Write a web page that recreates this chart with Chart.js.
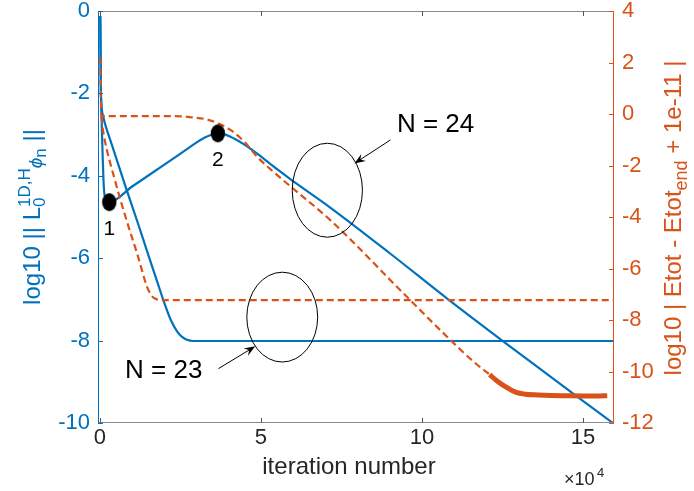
<!DOCTYPE html>
<html><head><meta charset="utf-8">
<script src="https://cdn.jsdelivr.net/npm/chart.js@4/dist/chart.umd.min.js"></script>
<style>html,body{margin:0;padding:0;background:#fff}</style>
</head><body>
<canvas id="c" width="694" height="491"></canvas>
<script>
// ---------- data (x in units of 1e4 iterations) ----------
const xTicks = [0, 5, 10, 15];
const xTickLabels = ['0', '5', '10', '15'];
const leftTicks = [-10, -8, -6, -4, -2, 0];
const rightTicks = [-12, -10, -8, -6, -4, -2, 0, 2, 4];

// N = 24, log10 ||L phi|| (left axis)
const blue24X = [0.01, 0.02, 0.03, 0.05, 0.08, 0.11, 0.14, 0.19, 0.29, 1.0, 2.0, 2.8, 3.12, 3.4, 3.66, 3.9, 4.15, 4.5, 4.88, 5.5, 5.91, 7.15, 9.0, 10.78, 13.0, 15.96];
const blue24Y = [-0.12, -1.0, -1.9, -2.6, -3.4, -4.1, -4.45, -4.6, -4.64, -4.26, -3.73, -3.30, -3.13, -3.02, -2.97, -3.0, -3.09, -3.25, -3.46, -3.84, -4.08, -4.77, -5.88, -6.98, -8.3, -10.02];
// N = 23, log10 ||L phi|| (left axis)
const blue23X = [0.01, 0.02, 0.03, 0.05, 0.1, 0.2, 0.32, 0.79, 1.2, 1.46, 1.77, 1.97, 2.2, 2.4, 2.55, 2.7, 2.9, 15.96];
const blue23Y = [-0.12, -1.0, -1.9, -2.3, -2.55, -2.85, -3.13, -4.25, -5.2, -5.82, -6.55, -7.02, -7.5, -7.78, -7.91, -7.98, -8.01, -8.01];
// N = 24, log10 |Etot - Etot_end + 1e-11| (right axis)
const orange24X = [0.01, 0.02, 0.03, 0.05, 0.5, 1.5, 2.5, 2.85, 3.32, 3.7, 4.05, 4.5, 4.88, 5.3, 5.81, 7.15, 9.53, 10.9, 11.6, 12.1];
const orange24Y = [2.2, 1.5, 0.5, -0.08, -0.08, -0.08, -0.09, -0.13, -0.21, -0.38, -0.62, -1.1, -1.66, -2.15, -2.70, -4.12, -7.10, -8.8, -9.62, -10.12];
// N = 24 noisy tail (right axis)
const orange24TailX = [12.1, 12.3, 12.6, 12.9, 13.2, 13.6, 14.0, 14.5, 15.0, 15.5, 15.75];
const orange24TailY = [-10.12, -10.34, -10.6, -10.8, -10.88, -10.91, -10.93, -10.94, -10.95, -10.95, -10.94];
// N = 23, log10 |Etot - Etot_end + 1e-11| (right axis)
const orange23X = [0.05, 0.08, 0.13, 0.45, 0.81, 1.17, 1.46, 1.62, 1.77, 2.0, 15.96];
const orange23Y = [-0.1, -0.48, -0.89, -2.5, -4.06, -5.48, -6.7, -7.08, -7.2, -7.23, -7.23];
// marked points 1 and 2 (left axis)
const markX = [0.29, 3.66];
const markY = [-4.64, -2.97];
const markLabels = ['1', '2'];

// annotations (data coordinates, left axis)
const noteTexts = ['N = 24', 'N = 23'];
const noteX = [10.42, 1.98];
const noteY = [-2.77, -8.74];
const ellipseCX = [7.06, 5.66];
const ellipseCY = [-4.35, -7.43];
const ellipseRX = [1.09, 1.10];
const ellipseRY = [1.14, 1.09];
const arrowFromX = [9.02, 3.68], arrowFromY = [-3.13, -8.68];
const arrowToX = [7.90, 4.82], arrowToY = [-3.70, -8.14];

const BLUE = '#0072BD', ORANGE = '#D95319', GREY = '#262626';
const FONT = '"Liberation Sans", Arial, Helvetica, sans-serif';

const pts = (xs, ys) => xs.map((v, i) => ({x: v, y: ys[i]}));

// elliptical black marker
const dot = document.createElement('canvas');
dot.width = 16; dot.height = 20;
{ const g = dot.getContext('2d'); g.fillStyle = '#000'; g.beginPath(); g.ellipse(8, 10, 7.2, 9, 0, 0, Math.PI * 2); g.fill(); }

const decor = {
  id: 'decor',
  afterDatasetsDraw(chart) {
    const {ctx, chartArea: a, scales} = chart;
    const x = scales.x, y = scales.y, y2 = scales.y2;
    ctx.save();
    ctx.lineWidth = 1;
    ctx.strokeStyle = '#8a8a8a';
    ctx.beginPath();
    ctx.moveTo(a.left, a.top + 0.5); ctx.lineTo(a.right, a.top + 0.5);
    ctx.moveTo(a.left, a.bottom - 0.5); ctx.lineTo(a.right, a.bottom - 0.5);
    ctx.stroke();
    ctx.strokeStyle = '#555';
    ctx.beginPath();
    xTicks.forEach(v => { const px = Math.round(x.getPixelForValue(v)) + 0.5;
      ctx.moveTo(px, a.bottom); ctx.lineTo(px, a.bottom - 5);
      ctx.moveTo(px, a.top); ctx.lineTo(px, a.top + 5); });
    ctx.stroke();
    ctx.strokeStyle = BLUE;
    ctx.beginPath();
    ctx.moveTo(a.left + 0.5, a.top); ctx.lineTo(a.left + 0.5, a.bottom);
    leftTicks.forEach(v => { const py = Math.round(y.getPixelForValue(v)) + 0.5;
      ctx.moveTo(a.left, py); ctx.lineTo(a.left + 5, py); });
    ctx.stroke();
    ctx.strokeStyle = ORANGE;
    ctx.beginPath();
    ctx.moveTo(a.right - 0.5, a.top); ctx.lineTo(a.right - 0.5, a.bottom);
    rightTicks.forEach(v => { const py = Math.round(y2.getPixelForValue(v)) + 0.5;
      ctx.moveTo(a.right, py); ctx.lineTo(a.right - 5, py); });
    ctx.stroke();

    ctx.strokeStyle = '#000'; ctx.lineWidth = 1;
    ellipseCX.forEach((cx, i) => {
      const px = x.getPixelForValue(cx), py = y.getPixelForValue(ellipseCY[i]);
      const rx = x.getPixelForValue(cx + ellipseRX[i]) - px;
      const ry = py - y.getPixelForValue(ellipseCY[i] + ellipseRY[i]);
      ctx.beginPath(); ctx.ellipse(px, py, rx, ry, 0, 0, Math.PI * 2); ctx.stroke();
    });
    arrowFromX.forEach((fx, i) => {
      const x0 = x.getPixelForValue(fx), y0 = y.getPixelForValue(arrowFromY[i]);
      const x1 = x.getPixelForValue(arrowToX[i]), y1 = y.getPixelForValue(arrowToY[i]);
      const ang = Math.atan2(y1 - y0, x1 - x0);
      const L = 11, W = 4.2;
      ctx.beginPath(); ctx.moveTo(x0, y0);
      ctx.lineTo(x1 - Math.cos(ang) * 6, y1 - Math.sin(ang) * 6); ctx.stroke();
      ctx.fillStyle = '#000';
      ctx.beginPath();
      ctx.moveTo(x1, y1);
      ctx.lineTo(x1 - Math.cos(ang) * L + Math.sin(ang) * W, y1 - Math.sin(ang) * L - Math.cos(ang) * W);
      ctx.lineTo(x1 - Math.cos(ang) * (L - 4), y1 - Math.sin(ang) * (L - 4));
      ctx.lineTo(x1 - Math.cos(ang) * L - Math.sin(ang) * W, y1 - Math.sin(ang) * L + Math.cos(ang) * W);
      ctx.closePath(); ctx.fill();
    });
    ctx.fillStyle = '#000';
    ctx.textAlign = 'center'; ctx.textBaseline = 'middle';
    ctx.font = '26px ' + FONT;
    noteTexts.forEach((t, i) => ctx.fillText(t, x.getPixelForValue(noteX[i]), y.getPixelForValue(noteY[i])));
    ctx.font = '21px ' + FONT;
    markLabels.forEach((t, i) => ctx.fillText(t, x.getPixelForValue(markX[i]), y.getPixelForValue(markY[i]) + 27));
    ctx.restore();
  },
  afterDraw(chart) {
    const {ctx, chartArea: a} = chart;
    ctx.save();
    ctx.textBaseline = 'alphabetic';
    ctx.fillStyle = GREY; ctx.textAlign = 'center';
    ctx.font = '24px ' + FONT;
    ctx.fillText('iteration number', (a.left + a.right) / 2 - 7, 474);
    ctx.textAlign = 'left';
    ctx.font = '18px ' + FONT;
    ctx.fillText('\u00d710', 564, 485);
    ctx.font = '13px ' + FONT;
    ctx.fillText('4', 597, 477);

    const drawRich = (parts, cx, cy, color) => {
      ctx.save();
      ctx.translate(cx, cy); ctx.rotate(-Math.PI / 2);
      ctx.fillStyle = color; ctx.textAlign = 'left';
      let total = 0;
      const widths = parts.map(p => {
        ctx.font = (p.italic ? 'italic ' : '') + p.size + 'px ' + FONT;
        const w = ctx.measureText(p.t).width;
        total += p.adv !== undefined ? p.adv : w;
        return w;
      });
      let pos = -total / 2;
      parts.forEach((p, i) => {
        ctx.font = (p.italic ? 'italic ' : '') + p.size + 'px ' + FONT;
        ctx.fillText(p.t, pos, p.dy || 0);
        pos += p.adv !== undefined ? p.adv : widths[i];
      });
      ctx.restore();
    };
    drawRich([
      {t: 'log10 || L', size: 24},
      {t: '0', size: 17, dy: 5, adv: 0},
      {t: '1D,H', size: 17, dy: -10},
      {t: '\u03d5', size: 19, italic: true, dy: 2},
      {t: 'n', size: 17, dy: 6},
      {t: ' ||', size: 24}
    ], 40, 217, BLUE);
    drawRich([
      {t: 'log10 | Etot - Etot', size: 24},
      {t: 'end', size: 18, dy: 6},
      {t: ' + 1e-11 |', size: 24}
    ], 681, 218, ORANGE);
    ctx.restore();
  }
};

new Chart(document.getElementById('c'), {
  type: 'line',
  data: {
    datasets: [
      {data: pts(markX, markY), yAxisID: 'y', showLine: false, pointStyle: dot, pointRadius: 8, borderWidth: 0},
      {data: pts(orange24X, orange24Y), yAxisID: 'y2', borderColor: ORANGE, borderWidth: 2.2, borderDash: [7, 4], pointRadius: 0, cubicInterpolationMode: 'monotone'},
      {data: pts(orange24TailX, orange24TailY), yAxisID: 'y2', borderColor: ORANGE, borderWidth: 5, pointRadius: 0, cubicInterpolationMode: 'monotone'},
      {data: pts(orange23X, orange23Y), yAxisID: 'y2', borderColor: ORANGE, borderWidth: 2.2, borderDash: [7, 4], pointRadius: 0, cubicInterpolationMode: 'monotone'},
      {data: pts(blue24X, blue24Y), yAxisID: 'y', borderColor: BLUE, borderWidth: 2.2, pointRadius: 0, cubicInterpolationMode: 'monotone'},
      {data: pts(blue23X, blue23Y), yAxisID: 'y', borderColor: BLUE, borderWidth: 2.2, pointRadius: 0, cubicInterpolationMode: 'monotone'}
    ]
  },
  options: {
    responsive: false, animation: false, devicePixelRatio: 1,
    layout: {padding: {top: 11, left: 0, right: 0, bottom: 0}},
    plugins: {legend: {display: false}, tooltip: {enabled: false}},
    scales: {
      x: {
        type: 'linear', min: -0.06, max: 15.96,
        grid: {display: false, drawTicks: false}, border: {display: false},
        afterBuildTicks: s => { s.ticks = xTicks.map(v => ({value: v})); },
        ticks: {color: GREY, font: {family: FONT, size: 22}, padding: 2, maxRotation: 0,
          callback: v => xTickLabels[xTicks.indexOf(v)]},
        afterFit: s => { s.height = 68; s.paddingLeft = 0; s.paddingRight = 0; }
      },
      y: {
        position: 'left', min: -10, max: 0,
        grid: {display: false, drawTicks: false}, border: {display: false},
        afterBuildTicks: s => { s.ticks = leftTicks.map(v => ({value: v})); },
        ticks: {color: BLUE, font: {family: FONT, size: 22}, padding: 8},
        afterFit: s => { s.width = 98; s.paddingTop = 0; s.paddingBottom = 0; }
      },
      y2: {
        position: 'right', min: -12, max: 4,
        grid: {display: false, drawTicks: false}, border: {display: false},
        afterBuildTicks: s => { s.ticks = rightTicks.map(v => ({value: v})); },
        ticks: {color: ORANGE, font: {family: FONT, size: 22}, padding: 8},
        afterFit: s => { s.width = 80; s.paddingTop = 0; s.paddingBottom = 0; }
      }
    }
  },
  plugins: [decor]
});
</script>
</body></html>
